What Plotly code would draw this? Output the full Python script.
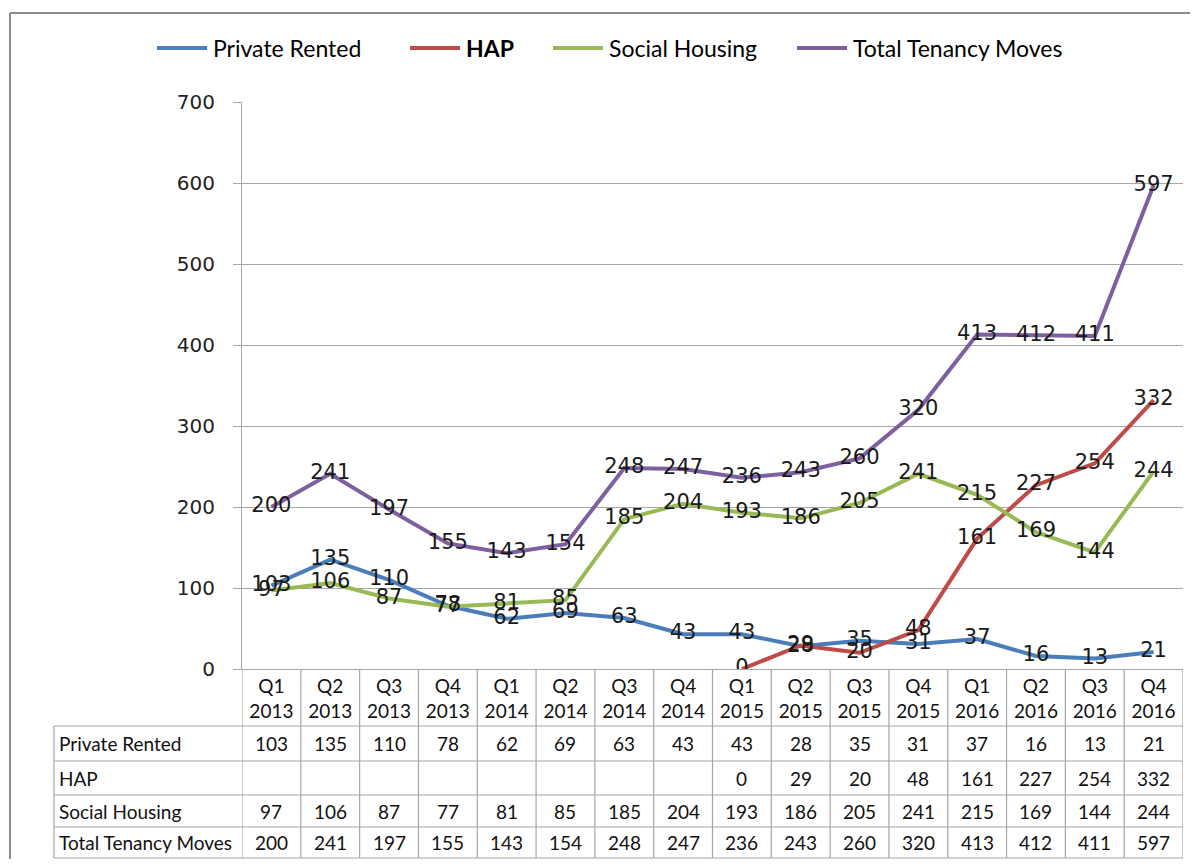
import plotly.graph_objects as go

# data
quarters = ['Q1 2013', 'Q2 2013', 'Q3 2013', 'Q4 2013',
            'Q1 2014', 'Q2 2014', 'Q3 2014', 'Q4 2014',
            'Q1 2015', 'Q2 2015', 'Q3 2015', 'Q4 2015',
            'Q1 2016', 'Q2 2016', 'Q3 2016', 'Q4 2016']
private_rented = [103, 135, 110, 78, 62, 69, 63, 43, 43, 28, 35, 31, 37, 16, 13, 21]
hap = [None, None, None, None, None, None, None, None, 0, 29, 20, 48, 161, 227, 254, 332]
social_housing = [97, 106, 87, 77, 81, 85, 185, 204, 193, 186, 205, 241, 215, 169, 144, 244]
total_moves = [200, 241, 197, 155, 143, 154, 248, 247, 236, 243, 260, 320, 413, 412, 411, 597]
y_ticks = [0, 100, 200, 300, 400, 500, 600, 700]

# (legend text, table row label, values, colour)
series = [
    ('Private Rented', 'Private Rented', private_rented, '#4A7EBB'),
    ('<b>HAP</b>', 'HAP', hap, '#BE4B48'),
    ('Social Housing', 'Social Housing', social_housing, '#98B954'),
    ('Total Tenancy Moves', 'Total Tenancy Moves', total_moves, '#7D60A0'),
]

# the page body keeps an 8px margin: make the figure fit inside the window
# (no scrollbars) and shift reference pixel positions by 8
OFF = 8
W, H = 1198 - 2 * OFF, 867 - 2 * OFF
def px(x):
    return (x - OFF) / W
def py(y):
    return 1 - (y - OFF) / H

LBL_FONT = 'Lato, Open Sans, sans-serif'
NUM_FONT = 'DejaVu Sans, sans-serif'
GRID = '#a6a6a6'
BORDER = '#8c8c8c'

fig = go.Figure()

# lines first, then labels on top of every line (as Excel does)
for _, name, vals, col in series:
    fig.add_trace(go.Scatter(x=quarters, y=vals, name=name, mode='lines',
                             line=dict(color=col, width=4), connectgaps=False,
                             showlegend=False))
for _, _, vals, col in series:
    fig.add_trace(go.Scatter(x=quarters, y=vals, mode='text', showlegend=False,
                             text=['' if v is None else str(v) for v in vals],
                             textposition='middle center',
                             textfont=dict(family=NUM_FONT, size=21, color='#1a1a1a'),
                             hoverinfo='skip'))

# data table under the plot
row_tops = [726, 761, 795, 827, 858]
shapes = []
annotations = []
# outer frame (only top and left edges are inside the picture)
shapes.append(dict(type='line', xref='paper', yref='paper', x0=px(10), x1=1.0,
                   y0=py(13), y1=py(13), line=dict(color=BORDER, width=2)))
shapes.append(dict(type='line', xref='paper', yref='paper', x0=px(10), x1=px(10),
                   y0=0, y1=py(13), line=dict(color=BORDER, width=2)))
# horizontal table lines
for y in row_tops:
    shapes.append(dict(type='line', xref='paper', yref='paper', x0=px(54), x1=px(1183),
                       y0=py(y), y1=py(y), line=dict(color=GRID, width=1.2)))
# left edge of row labels
shapes.append(dict(type='line', xref='paper', yref='paper', x0=px(54), x1=px(54),
                   y0=py(row_tops[0]), y1=py(row_tops[-1]), line=dict(color=GRID, width=1.2)))
# column separators
for i in range(len(quarters) + 1):
    shapes.append(dict(type='line', xref='x', yref='paper', x0=i - 0.5, x1=i - 0.5,
                       y0=py(669), y1=py(row_tops[-1]), line=dict(color=GRID, width=1.2)))

row_centres = [(row_tops[k] + row_tops[k + 1]) / 2 for k in range(4)]
for (_, row_name, vals, _), yc in zip(series, row_centres):
    annotations.append(dict(xref='paper', yref='paper', x=px(57), y=py(yc), xanchor='left',
                            yanchor='middle', text=row_name, showarrow=False,
                            font=dict(family=LBL_FONT, size=19, color='#111')))
    for q, v in zip(quarters, vals):
        if v is None:
            continue
        annotations.append(dict(xref='x', yref='paper', x=q, y=py(yc), xanchor='center',
                                yanchor='middle', text=str(v), showarrow=False,
                                font=dict(family=LBL_FONT, size=19, color='#111')))

# legend across the top (Excel style: long line sample, text right after it)
legend_x = [157, 410, 553, 797]
for (leg_name, _, _, col), x0 in zip(series, legend_x):
    shapes.append(dict(type='line', xref='paper', yref='paper', x0=px(x0), x1=px(x0 + 50),
                       y0=py(48), y1=py(48), line=dict(color=col, width=4)))
    annotations.append(dict(xref='paper', yref='paper', x=px(x0 + 54), y=py(48),
                            xanchor='left', yanchor='middle', text=leg_name, showarrow=False,
                            font=dict(family=LBL_FONT, size=23, color='#000')))

fig.update_layout(
    width=W, height=H,
    margin=dict(l=0, r=0, t=0, b=0, autoexpand=False),
    paper_bgcolor='white', plot_bgcolor='white',
    showlegend=False,
    xaxis=dict(domain=[px(242), px(1183)], type='category', range=[-0.5, len(quarters) - 0.5],
               tickvals=quarters, ticktext=[q.replace(' ', '<br>') for q in quarters],
               ticks='', showgrid=False, showline=True, linecolor=GRID, linewidth=1.2,
               tickfont=dict(family=LBL_FONT, size=19, color='#111'), zeroline=False),
    yaxis=dict(domain=[py(669), py(102)], range=[0, 700], tickvals=y_ticks,
               showgrid=True, gridcolor=GRID, gridwidth=1.2, zeroline=False,
               showline=True, linecolor=GRID, linewidth=1.2,
               ticks='outside', ticklen=8, tickcolor=GRID, ticklabelstandoff=14,
               tickfont=dict(family=NUM_FONT, size=20, color='#222')),
    shapes=shapes,
    annotations=annotations,
)

fig.write_html('out.html')
